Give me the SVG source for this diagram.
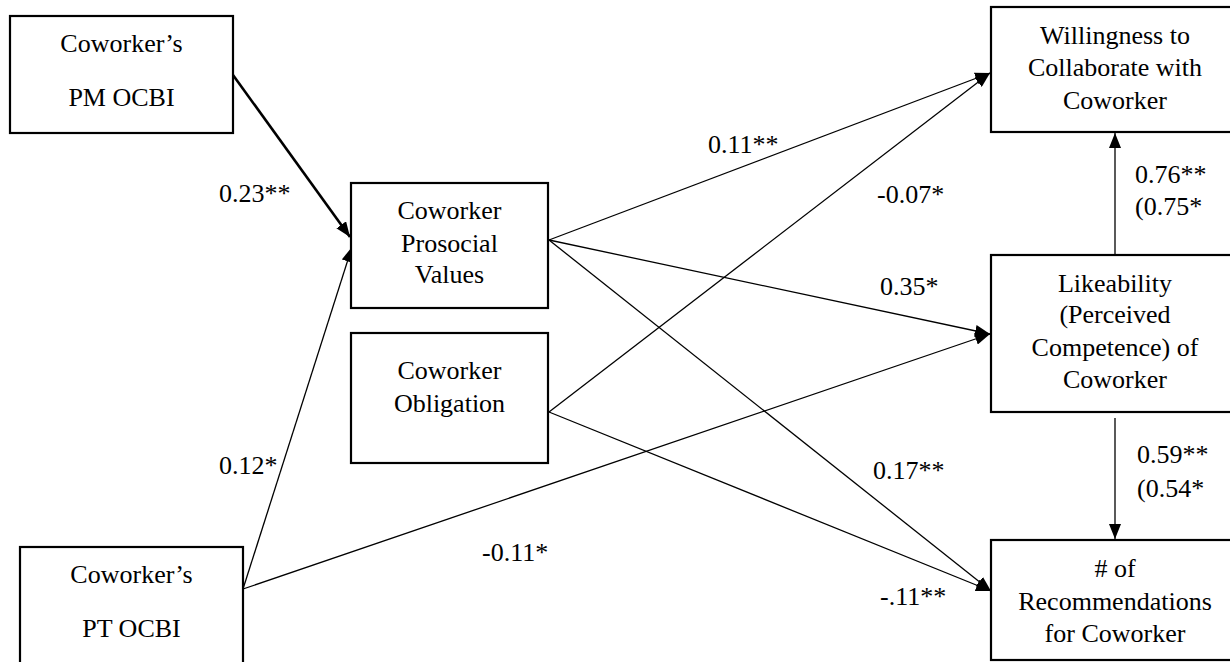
<svg xmlns="http://www.w3.org/2000/svg" width="1230" height="662" viewBox="0 0 1230 662">
  <style>
    .box { fill: #ffffff; stroke: #000000; stroke-width: 2.2; }
    .lbl { font-family: 'Liberation Serif', 'Times New Roman', serif; font-size: 26px; fill: #000000; text-anchor: middle; }
    .coef { font-family: 'Liberation Serif', 'Times New Roman', serif; font-size: 26px; fill: #000000; }
    .edge { fill: none; stroke: #000000; stroke-width: 1.3; marker-end: url(#arrow); }
    .edge-bold { fill: none; stroke: #000000; stroke-width: 2.6; marker-end: url(#arrow); }
  </style>
  <defs>
    <!-- filled triangular arrowhead shared by all paths -->
    <marker id="arrow" markerUnits="userSpaceOnUse" markerWidth="16" markerHeight="12" refX="15" refY="6" orient="auto">
      <path d="M0,0 L15,6 L0,12 z" fill="#000000"/>
    </marker>
  </defs>
  <rect width="1230" height="662" fill="#ffffff"/>

  <!-- structural paths -->
  <g id="connectors">
    <line class="edge-bold" x1="233" y1="75" x2="350" y2="237"/>
    <line class="edge" x1="243" y1="589" x2="352" y2="247"/>
    <line class="edge" x1="243" y1="589" x2="990" y2="334"/>
    <line class="edge" x1="549" y1="240" x2="990" y2="73"/>
    <line class="edge" x1="549" y1="240" x2="990" y2="334"/>
    <line class="edge" x1="549" y1="240" x2="991" y2="591"/>
    <line class="edge" x1="549" y1="412" x2="990" y2="73"/>
    <line class="edge" x1="549" y1="412" x2="991" y2="591"/>
    <line class="edge" x1="1115" y1="255" x2="1115" y2="133"/>
    <line class="edge" x1="1115" y1="418" x2="1115" y2="539"/>
  </g>

  <!-- path coefficients -->
  <g id="coefficients">
    <text class="coef" x="219" y="202">0.23**</text>
    <text class="coef" x="219" y="474">0.12*</text>
    <text class="coef" x="482" y="561">-0.11*</text>
    <text class="coef" x="708" y="153">0.11**</text>
    <text class="coef" x="877" y="203">-0.07*</text>
    <text class="coef" x="880" y="295">0.35*</text>
    <text class="coef" x="873" y="479">0.17**</text>
    <text class="coef" x="880" y="605">-.11**</text>
    <text class="coef" x="1135" y="183">0.76**</text>
    <text class="coef" x="1135" y="215">(0.75*</text>
    <text class="coef" x="1137" y="463">0.59**</text>
    <text class="coef" x="1137" y="497">(0.54*</text>
  </g>

  <!-- constructs -->
  <g id="pm-ocbi">
    <rect class="box" x="10" y="16" width="223" height="117"/>
    <text class="lbl" x="121.5" y="52">Coworker’s</text>
    <text class="lbl" x="121.5" y="106">PM OCBI</text>
  </g>
  <g id="pt-ocbi">
    <rect class="box" x="20" y="547" width="223" height="130"/>
    <text class="lbl" x="131.5" y="583">Coworker’s</text>
    <text class="lbl" x="131.5" y="637">PT OCBI</text>
  </g>
  <g id="prosocial-values">
    <rect class="box" x="351" y="183" width="197" height="125"/>
    <text class="lbl" x="449.5" y="219">Coworker</text>
    <text class="lbl" x="449.5" y="252">Prosocial</text>
    <text class="lbl" x="449.5" y="283">Values</text>
  </g>
  <g id="obligation">
    <rect class="box" x="351" y="333" width="197" height="130"/>
    <text class="lbl" x="449.5" y="379">Coworker</text>
    <text class="lbl" x="449.5" y="412">Obligation</text>
  </g>
  <g id="willingness">
    <rect class="box" x="991" y="7" width="250" height="125"/>
    <text class="lbl" x="1115" y="44">Willingness to</text>
    <text class="lbl" x="1115" y="76">Collaborate with</text>
    <text class="lbl" x="1115" y="109">Coworker</text>
  </g>
  <g id="likeability">
    <rect class="box" x="991" y="255" width="250" height="157"/>
    <text class="lbl" x="1115" y="292">Likeability</text>
    <text class="lbl" x="1115" y="323">(Perceived</text>
    <text class="lbl" x="1115" y="356">Competence) of</text>
    <text class="lbl" x="1115" y="388">Coworker</text>
  </g>
  <g id="recommendations">
    <rect class="box" x="991" y="540" width="250" height="120"/>
    <text class="lbl" x="1115" y="577"># of</text>
    <text class="lbl" x="1115" y="610">Recommendations</text>
    <text class="lbl" x="1115" y="642">for Coworker</text>
  </g>
</svg>
